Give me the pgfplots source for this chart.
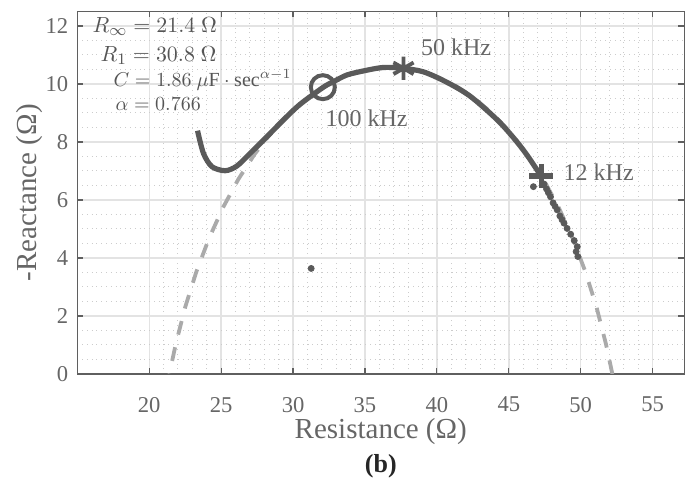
\documentclass[border=0pt]{standalone}
\usepackage{pgfplots}
\pgfplotsset{compat=1.18}
\usepackage{fontspec}
\setmainfont{Liberation Serif}
\definecolor{txt}{HTML}{666666}
\definecolor{ann}{HTML}{555555}
\definecolor{dat}{HTML}{5A5A5A}
\definecolor{fit}{HTML}{AAAAAA}
\definecolor{gmaj}{HTML}{E3E3E3}
\definecolor{gmin}{HTML}{CCCCCC}
\definecolor{axc}{HTML}{5F5F5F}
\begin{document}
\begin{tikzpicture}
\path[use as bounding box] (-38.65pt,-55.5pt) rectangle (307.35pt,187pt);
\begin{axis}[
 name=ax,
 scale only axis, width=303.5pt, height=181.25pt,
 xmin=15, xmax=57.2, ymin=0, ymax=12.5,
 xtick={20,25,...,55}, ytick={0,2,...,12},
 minor x tick num=4, minor y tick num=3,
 tick align=inside, major tick length=3pt, minor tick length=0pt,
 grid=both,
 major grid style={gmaj, line width=0.7pt},
 minor grid style={gmin, dotted, line width=0.5pt},
 axis line style={axc, line width=0.6pt},
 tick style={axc, line width=0.6pt},
 ticklabel style={font=\fontsize{11.3}{13}\selectfont, text=txt},
 /pgf/number format/assume math mode=true,
 xticklabel style={yshift=-8pt},
 yticklabel style={xshift=-1pt},
 xlabel={Resistance (Ω)}, ylabel={-Reactance (Ω)},
 label style={font=\fontsize{14.5}{16}\selectfont, text=txt},
 xlabel style={at={(axis description cs:0.5,-0.16)}, anchor=center},
 ylabel style={at={(axis description cs:-0.078,0.5)}, anchor=center},
]
% Cole fit arc
\addplot[fit, line width=1.9pt, dash pattern=on 7pt off 6.5pt] coordinates {
(52.20,0) (51.75,1.04) (51.09,2.32) (50.32,3.53) (49.44,4.68) (48.47,5.74)
(47.41,6.71) (46.26,7.59) (45.05,8.36) (43.77,9.02) (42.44,9.57) (41.07,10.01)
(39.66,10.32) (38.24,10.51) (36.80,10.57) (35.36,10.51) (33.94,10.32) (32.53,10.01)
(31.16,9.57) (29.83,9.02) (28.55,8.36) (27.34,7.59) (26.19,6.71) (25.13,5.74)
(24.16,4.68) (23.28,3.53) (22.51,2.32) (21.85,1.04) (21.40,0)
};
% measured data
\addplot[dat, line width=2.6pt, smooth, tension=0.5] coordinates {
(23.36,8.39) (23.77,7.61) (24.36,7.15) (25.28,7.01) (26.09,7.17) (27.02,7.61)
(28.18,8.18) (29.33,8.76) (30.49,9.30) (32.11,9.89) (32.81,10.08) (33.74,10.31)
(34.89,10.45) (36.28,10.57) (37.63,10.54) (39.06,10.42) (40.69,10.06) (42.31,9.58)
(44.16,8.78) (45.32,8.15) (46.25,7.56) (47.22,6.84)
};
\addplot[dat, only marks, mark=*, mark size=1.5pt] coordinates {
(46.71,6.46) (47.45,6.55) (47.62,6.38) (47.75,6.25) (47.90,6.11) (48.08,5.90) (48.22,5.78) (48.36,5.66)
(48.55,5.45) (48.70,5.32) (48.84,5.20) (49.05,5.02) (49.30,4.82) (49.55,4.60) (49.76,4.39)
(49.68,4.22) (49.80,4.05) (31.26,3.64)
};
\addplot[dat, only marks, mark=o, mark size=6pt, mark options={line width=2pt}] coordinates {(32.07,9.89)};
\addplot[dat, only marks, mark=asterisk, mark size=5.8pt, mark options={line width=1.9pt}] coordinates {(37.68,10.54)};
\addplot[dat, only marks, mark=+, mark size=6pt, mark options={line width=2.6pt}] coordinates {(47.27,6.83)};
% frequency labels
\node[anchor=west, inner sep=0pt, font=\fontsize{12}{14}\selectfont, text=txt] at (axis cs:38.88,11.26) {50 kHz};
\node[anchor=west, inner sep=0pt, font=\fontsize{12}{14}\selectfont, text=txt] at (axis cs:32.23,8.82) {100 kHz};
\node[anchor=west, inner sep=0pt, font=\fontsize{12}{14}\selectfont, text=txt] at (axis cs:48.79,6.95) {12 kHz};
% parameters
\node[anchor=base west, inner sep=0pt, font=\fontsize{11.2}{13}\selectfont, text=ann] at (axis cs:16.04,11.79) {$R_\infty = 21.4~\Omega$};
\node[anchor=base west, inner sep=0pt, font=\fontsize{11.2}{13}\selectfont, text=ann] at (axis cs:16.60,10.79) {$R_1 = 30.8~\Omega$};
\node[anchor=base west, inner sep=0pt, font=\fontsize{10}{12}\selectfont, text=ann] at (axis cs:17.50,9.93) {$C = 1.86~\mu\mathrm{F}\cdot\mathrm{sec}^{\alpha-1}$};
\node[anchor=base west, inner sep=0pt, font=\fontsize{10.2}{12}\selectfont, text=ann] at (axis cs:17.64,9.10) {$\alpha = 0.766$};
\end{axis}
\node[font=\bfseries\fontsize{13}{15}\selectfont, text=black!85] at ([yshift=-46pt]ax.south) {(b)};
\end{tikzpicture}
\end{document}
